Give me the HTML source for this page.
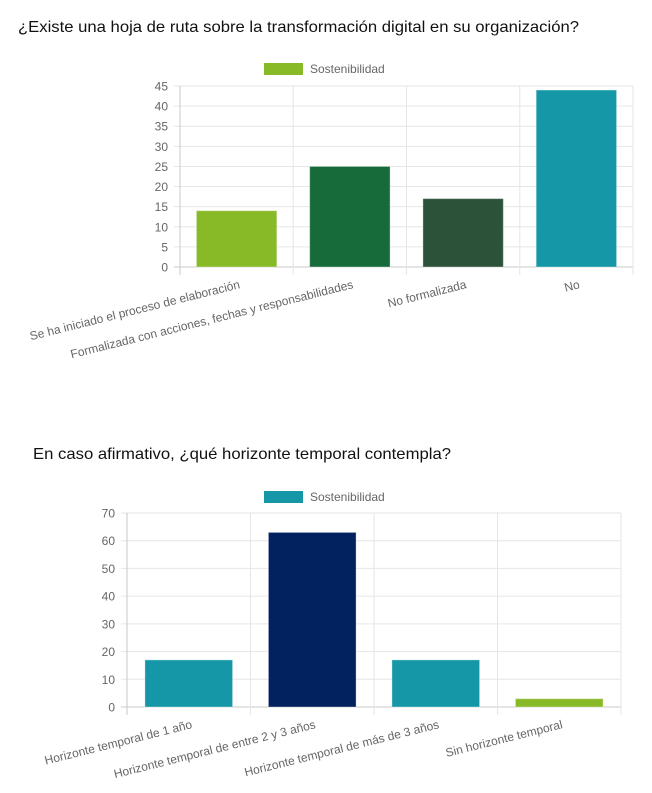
<!DOCTYPE html>
<html><head><meta charset="utf-8">
<style>
html,body{margin:0;padding:0;background:#fff;width:652px;height:793px;overflow:hidden}
svg{display:block}
text{font-family:"Liberation Sans",sans-serif}
</style></head>
<body>
<svg id="root" width="652" height="793" xmlns="http://www.w3.org/2000/svg">
<text x="18" y="32" font-size="16" fill="#111" textLength="561" lengthAdjust="spacingAndGlyphs">¿Existe una hoja de ruta sobre la transformación digital en su organización?</text>
<text x="33" y="459" font-size="16" fill="#111" textLength="418" lengthAdjust="spacingAndGlyphs">En caso afirmativo, ¿qué horizonte temporal contempla?</text>
<g id="c1"></g>
<g id="c2"></g>
</svg>
<script>
const cats1 = ["Se ha iniciado el proceso de elaboración","Formalizada con acciones, fechas y responsabilidades","No formalizada","No"];
const vals1 = [14,25,17,44];
const colors1 = ["#88b926","#176b3a","#2c533a","#1697a8"];
const ticks1 = [0,5,10,15,20,25,30,35,40,45];
const legend1 = "Sostenibilidad";

const cats2 = ["Horizonte temporal de 1 año","Horizonte temporal de entre 2 y 3 años","Horizonte temporal de más de 3 años","Sin horizonte temporal"];
const vals2 = [17,63,17,3];
const colors2 = ["#1697a8","#02215f","#1697a8","#88b926"];
const ticks2 = [0,10,20,30,40,50,60,70];
const legend2 = "Sostenibilidad";

const NS="http://www.w3.org/2000/svg";
function mk(parent,tag,attrs){const e=document.createElementNS(NS,tag);for(const k in attrs)e.setAttribute(k,attrs[k]);parent.appendChild(e);return e;}

function drawChart(g,cats,vals,colors,ticks,legendLabel,box,legendColor,legendY,prefix){
  const {x0,x1,y0,y1}=box;
  const maxV=ticks[ticks.length-1];
  const ys=v=>y1-(v/maxV)*(y1-y0);
  const cw=(x1-x0)/cats.length;
  const xc=i=>x0+cw*(i+0.5);
  const lb=mk(g,'rect',{x:264,y:legendY,width:39,height:12,fill:legendColor});
  
  
  const lt=mk(g,'text',{x:310,y:legendY+10,'font-size':12,fill:'#666'});
  lt.textContent=legendLabel;
  
  
  ticks.forEach(t=>{
    const y=ys(t);
    const l=mk(g,'line',{x1:x0-6,x2:x1,y1:y,y2:y,stroke:t===0?'#c8c8c8':'#e6e6e6','stroke-width':1});
    
    
    const tx=mk(g,'text',{x:x0-12,y:y+4.5,'font-size':12,fill:'#666','text-anchor':'end'});
    tx.textContent=t;
    
    
  });
  for(let i=0;i<=cats.length;i++){
    const x=x0+cw*i;
    const l=mk(g,'line',{x1:x,x2:x,y1:y0,y2:y1+8,stroke:i===0?'#c8c8c8':'#e6e6e6','stroke-width':1});
    
    
  }
  const bw=cw*0.71;
  vals.forEach((v,i)=>{
    const r=mk(g,'rect',{x:xc(i)-bw/2,y:ys(v),width:bw,height:y1-ys(v),fill:colors[i],stroke:'rgba(255,255,255,0.35)','stroke-width':1});
    
    
  });
  cats.forEach((c,i)=>{
    const x=xc(i)+4, y=y1+21;
    const t=mk(g,'text',{x:x,y:y,'font-size':12,fill:'#666','text-anchor':'end',transform:`rotate(-14 ${x} ${y})`});
    t.textContent=c;
    
    
  });
}
drawChart(document.getElementById('c1'),cats1,vals1,colors1,ticks1,legend1,{x0:180,x1:633,y0:86,y1:267},"#88b926",63,'chart1');
drawChart(document.getElementById('c2'),cats2,vals2,colors2,ticks2,legend2,{x0:127,x1:621,y0:513,y1:707},"#1697a8",491,'chart2');
</script>
</body></html>
